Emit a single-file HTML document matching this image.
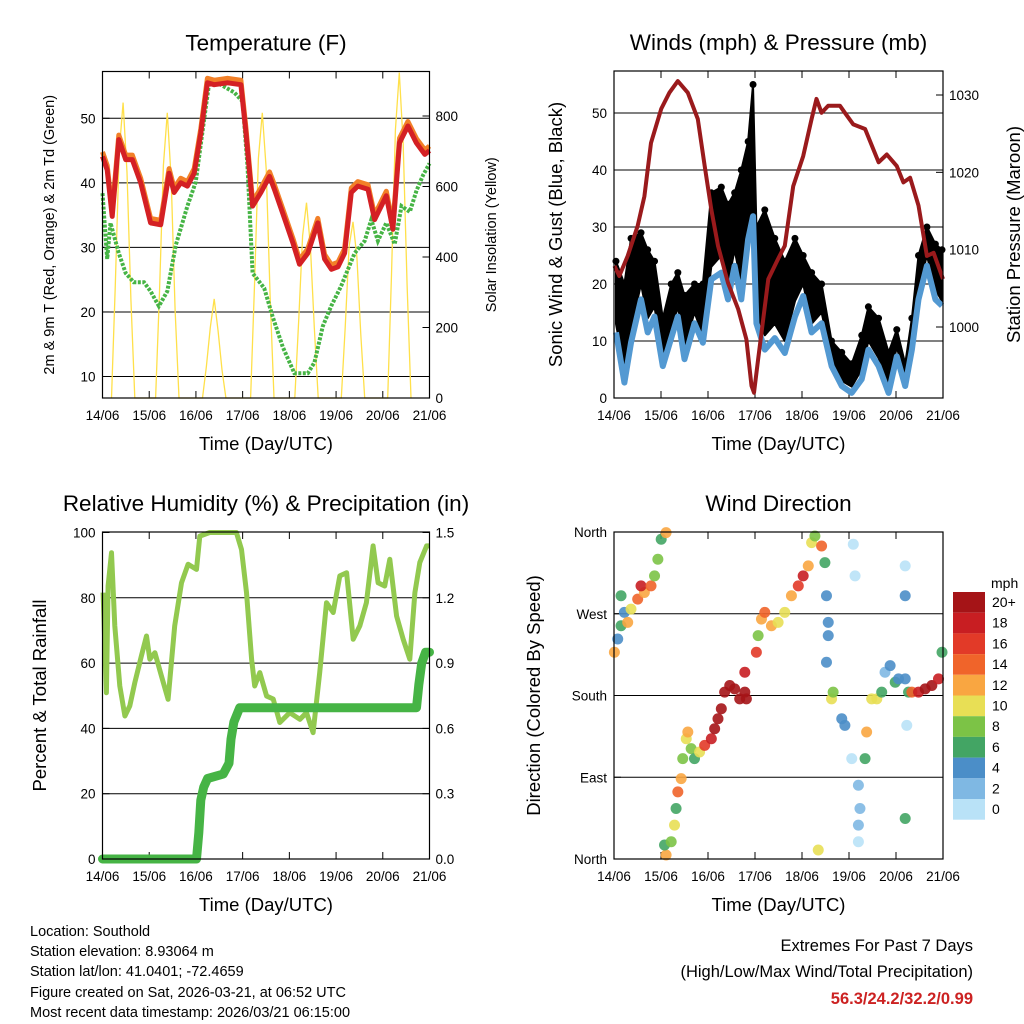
<!DOCTYPE html>
<html><head><meta charset="utf-8"><style>
body{margin:0;background:#fff;}
svg{display:block;font-family:"Liberation Sans",Arial,sans-serif;}
</style></head><body>
<svg id="c" width="1024" height="1024" viewBox="0 0 1024 1024">
<g id="g"></g>
<text x="30" y="936" font-size="14.5">Location: Southold</text>
<text x="30" y="956" font-size="14.5">Station elevation: 8.93064 m</text>
<text x="30" y="976" font-size="14.5">Station lat/lon: 41.0401; -72.4659</text>
<text x="30" y="997" font-size="14.5">Figure created on Sat, 2026-03-21, at 06:52 UTC</text>
<text x="30" y="1017" font-size="14.5">Most recent data timestamp: 2026/03/21 06:15:00</text>
<text x="973" y="951" font-size="16.5" text-anchor="end">Extremes For Past 7 Days</text>
<text x="973" y="977" font-size="16.5" text-anchor="end">(High/Low/Max Wind/Total Precipitation)</text>
<text x="973" y="1004" font-size="16.5" font-weight="bold" fill="#cc2222" text-anchor="end">56.3/24.2/32.2/0.99</text>
</svg>
<script>
// ---------- DATA ----------
const dayLabels=["14/06","15/06","16/06","17/06","18/06","19/06","20/06","21/06"];
const tempT=[0,2.4,5.0,8.4,11.9,15.3,19.6,24.7,29.9,34.2,36.8,40.2,43.6,47.1,50.5,53.9,57.4,64.2,71.1,73.7,77.1,81.4,85.8,88.3,92.6,97.8,101.2,105.5,110.6,114.1,117.6,121.0,124.4,127.8,131.2,136.4,139.8,143.2,145.8,149.2,152.6,156.9,161.2,165.6,168];
const tempV=[44.1,42,34.8,46.7,43.6,43.6,40,33.8,33.5,41.5,38.5,40,39.5,41.5,47.7,55.5,55.2,55.5,55.2,47.7,36.4,38.5,41,39,35.3,30.7,27.4,29.1,33.8,28.2,26.6,27,29.1,38.5,39.5,39,34.3,36.4,38,32.8,46.2,48.8,46.2,44.4,45];
const dewT=[0,0.7,2.4,4.1,8.4,11.9,16.1,21.3,24.7,29.0,33.3,37.6,43.6,47.9,52.2,54.8,60.8,67.7,72.0,74.5,77.1,83.1,87.4,92.6,98.6,105.5,108.9,113.2,117.5,122.6,129.5,134.7,138.1,141.5,145.8,150.1,153.6,157.9,161.3,164.7,168];
const dewV=[38.4,35.3,28.2,33.8,29.1,26,24.6,24.6,23.2,20.9,23.2,30.3,36.4,40.1,49.8,55.5,55.2,54,52.6,42.6,26,23.7,19.3,14.6,10.5,10.5,12.2,17.8,20.9,24,29.1,31,34.3,31,33.8,30.5,36.4,35.5,38.8,41.2,43];
const solarT=[4.6,6.6,8.6,10.6,12.6,14.6,16.6, 27.3,29.3,31.3,33.3,35.3,37.3,39.3, 51.4,53.4,55.4,57.4,59.4,61.4,63.4, 76.1,78.1,80.1,82.1,84.1,86.1,88.1, 98.8,100.8,102.8,104.8,106.8,108.8,110.8, 122.7,124.7,126.7,128.7,130.7,132.7,134.7, 146.5,148.5,150.5,152.5,154.5,156.5,158.5];
const solarV=[0,320,700,838,640,280,0, 0,300,660,809,620,250,0, 0,90,200,281,190,80,0, 0,320,680,809,650,290,0, 0,220,460,554,430,200,0, 0,200,430,500,400,180,0, 0,350,760,923,720,320,0];
const windT=[1.0,5.3,8.7,13.8,17.2,20.7,24.9,29.2,32.6,36.0,41.1,45.4,49.7,54.8,58.2,61.6,65.0,68.5,71.0,72.7,77.0,82.1,87.2,92.4,96.6,100.9,106.0,111.1,116.3,121.4,126.5,129.9,135.1,140.2,144.4,148.7,152.1,155.5,159.8,164.1,167.5];
const windV=[11.5,2.7,9.7,17.3,11.5,14.3,5.6,10.5,14.3,6.8,13.1,9.7,20.8,22,17.3,23.2,17.3,27.8,31.9,13.1,8.5,10.5,7.9,14.3,17.9,11.5,13.1,5.6,2.1,0.9,3.3,8.5,5.6,0.9,7.3,2.1,8.5,17.3,23.2,17.3,16.2];
const gustHi=[24,20,28,29,26,24,14,20,22,18,20,20,36,37,34,36,40,45,55,30,33,28,24,28,25,22,20,10,8,6,11,16,14,8,12,6,14,25,30,27,26];
const gustLo=[13,5,12,20,14,16,7,12,16,9,15,11,23,25,20,26,20,30,33,15,11,13,10,17,20,13,15,7,3,2,5,10,7,2,9,3,10,19,25,19,17];
const presT=[0.2,2.7,7.0,12.1,15.5,18.9,24.1,28.3,32.6,37.7,42.8,46.3,49.7,53.1,58.2,63.4,67.6,70.2,71.5,73.6,78.8,83.8,87.2,91.5,96.6,100.9,103.4,106.0,109.4,115.4,117.9,122.2,128.2,135.1,139.3,144.4,147.8,151.2,155.5,159.8,163.2,168];
const presV=[1007.9,1006.6,1009.2,1013.1,1016.9,1023.8,1028.2,1030.3,1031.8,1030.3,1026.9,1020.8,1015.2,1010.5,1005.7,1002.3,998.4,992.4,991.5,995.8,1006.2,1008.8,1010.5,1018.2,1022.1,1026.9,1029.5,1027.7,1028.6,1028.6,1027.7,1026.2,1025.6,1021.3,1022.3,1020.8,1018.7,1019.3,1015.7,1009.2,1009.6,1006.2];
const rhT=[0.3,2.0,2.9,4.6,6.3,8.9,11.5,14.0,16.6,20.0,22.6,24.3,26.9,30.3,33.7,37.1,40.6,44.0,48.3,50.0,55.1,63.7,68.8,71.4,74.0,76.6,78.2,80.8,84.3,87.7,91.1,96.2,101.4,104.8,108.2,111.6,115.1,118.5,121.9,125.4,128.8,132.2,135.6,139.0,141.6,145.0,147.6,151.1,154.5,157.9,160.5,163.0,166.5,168];
const rhV=[81.6,50.9,83.6,93.8,71.4,53,43.8,46.9,54,62.2,68.3,61.2,63.2,56,48.9,71.4,84.6,90.3,88.7,98.9,100,100,100,94.8,81.6,61.2,53,57.1,49.9,49,41.8,44.8,42.8,44.8,38.7,57.1,78.5,75.5,86.7,87.7,67.3,71.4,78.5,95.9,84.6,83.6,91.8,74.4,67.3,61.2,81.6,90.8,95.9,95.9];
const rainT=[0,48.3,49.5,50.5,52,54,62,65,66,67.5,70.5,161.3,162.5,164,166,168];
const rainV=[0,0,0.12,0.27,0.33,0.37,0.39,0.44,0.55,0.63,0.695,0.695,0.8,0.9,0.95,0.95];
const dirT=[0.2,1.9,3.6,5.3,3.6,7.0,8.7,12.1,15.5,13.8,18.9,20.7,22.4,24.1,26.6,26.6,25.8,29.2,30.9,31.7,32.6,34.3,35.1,36.9,37.7,39.4,41.1,43.7,46.3,49.7,51.4,53.1,54.8,56.5,59.1,61.6,64.2,66.8,67.6,66.8,72.7,73.6,75.3,77.0,80.4,83.8,87.2,90.6,94.1,96.6,99.2,100.9,102.6,106.0,107.7,108.5,109.4,109.4,108.5,111.1,111.9,116.3,117.9,121.4,124.8,125.6,124.8,128.2,129.0,131.6,134.2,136.7,138.4,141.0,143.6,145.3,148.7,150.4,152.1,155.5,158.9,162.3,165.7,167.5,122.2,123.1,148.7,148.7,148.7,104.3,124.8,149.5];
const dirV=[227.6,242.2,256.8,271.5,289.8,260.5,275.1,286.1,293.4,300.7,300.7,311.7,330,352,359.3,4.4,15.4,19,37.3,55.6,73.9,88.5,110.5,132.4,139.8,121.5,110.5,117.8,125.1,132.4,143.4,154.4,165.4,183.7,191,187.3,176.3,183.7,176.3,205.6,227.6,245.9,264.1,271.5,256.8,260.5,271.5,289.8,300.7,311.7,322.7,348.3,355.6,344.6,326.3,289.8,260.5,245.9,216.6,176.3,183.7,154.4,147.1,110.5,81.2,55.6,37.3,110.5,139.8,176.3,176.3,183.7,205.6,212.9,194.6,198.3,198.3,183.7,183.7,183.7,187.3,191,198.3,227.6,346.5,311.7,322.7,289.8,44.6,9.9,19,147.1];
const dirS=[12,4,6,4,6,12,10,14,12,18,14,8,8,6,12,12,6,8,10,6,14,12,8,10,12,8,6,10,16,18,20,20,20,20,20,20,20,20,20,18,16,8,12,14,12,10,10,12,16,18,12,10,8,14,6,4,4,4,4,10,8,4,4,0,2,2,2,6,12,10,10,6,2,4,6,4,4,6,14,18,20,20,18,6,0,0,0,4,6,10,0,0];
const cbLabels=["20+","18","16","14","12","10","8","6","4","2","0"];
const cbColors=["#a51417","#c81e22","#e23a28","#f0642a","#f9a641","#e8df55","#7cc346","#43a564","#4b8ec8","#7fb8e3","#b9e2f7"];

// ---------- DRAW ----------
const NS="http://www.w3.org/2000/svg";const G=document.getElementById('g');
function el(tag,attrs,parent,txt){const e=document.createElementNS(NS,tag);for(const k in attrs)e.setAttribute(k,attrs[k]);if(txt!==undefined)e.textContent=txt;(parent||G).appendChild(e);return e;}
function lin(d0,d1,r0,r1){return v=>r0+(v-d0)*(r1-r0)/(d1-d0);}
function pts(T,V,sx,sy){return T.map((t,i)=>sx(t).toFixed(1)+','+sy(V[i]).toFixed(1)).join(' ');}
function spd2col(s){let i=Math.round(s/2);if(i>10)i=10;return cbColors[10-i];}

function panel(P){
  const g=el('g',{});
  
  
  const sx=lin(0,168,P.x0,P.x1);
  P.lt.forEach((v,i)=>{const y=P.ly(v);
    if(P.grid&&y>P.y0+1&&y<P.y1-1){const l=el('line',{x1:P.x0,x2:P.x1,y1:y,y2:y,stroke:'#000','stroke-width':1},g);}
    el('line',{x1:P.x0,x2:P.x0+7,y1:y,y2:y,stroke:'#000'},g);
    const t=el('text',{x:P.x0-7,y:y+5,'font-size':13.5,'text-anchor':'end'},g,P.ltl[i]);
    
  });
  if(P.rt)P.rt.forEach((v,i)=>{const y=P.ry(v);
    el('line',{x1:P.x1-7,x2:P.x1,y1:y,y2:y,stroke:'#000'},g);
    const t=el('text',{x:P.x1+6,y:y+5,'font-size':13.5},g,P.rtl[i]);
    
  });
  dayLabels.forEach((d,i)=>{const x=sx(i*24);
    el('line',{x1:x,x2:x,y1:P.y1,y2:P.y1-7,stroke:'#000'},g);
    el('line',{x1:x,x2:x,y1:P.y0,y2:P.y0+7,stroke:'#000'},g);
    const t=el('text',{x:x,y:P.y1+22,'font-size':13.5,'text-anchor':'middle'},g,d);
    
  });
  P.draw(g,sx);
  el('rect',{x:P.x0,y:P.y0,width:P.x1-P.x0,height:P.y1-P.y0,fill:'none',stroke:'#000','stroke-width':1.2},g);
  const tt=el('text',{x:(P.x0+P.x1)/2,y:P.y0-21,'font-size':22.5,'text-anchor':'middle'},g,P.title);
  
  const xt=el('text',{x:(P.x0+P.x1)/2,y:P.y1+52,'font-size':18.5,'text-anchor':'middle'},g,'Time (Day/UTC)');
  
  const cy=(P.y0+P.y1)/2;
  const yl=el('text',{x:0,y:0,'font-size':P.lfs,'text-anchor':'middle',transform:`translate(${P.lx},${cy}) rotate(-90)`},g,P.ltitle);
  
  if(P.rtitle){const yr=el('text',{x:0,y:0,'font-size':P.rfs,'text-anchor':'middle',transform:`translate(${P.rx},${cy}) rotate(-90)`},g,P.rtitle);
    }
}

// Panel 1 temperature
const t1y=lin(10,50,376.5,118.3), s1y=lin(0,800,398,116);
panel({name:'temperature-panel',x0:102.5,x1:429.5,y0:71.5,y1:398,grid:true,title:'Temperature (F)',
 lt:[10,20,30,40,50],ltl:['10','20','30','40','50'],ly:t1y,
 rt:[0,200,400,600,800],rtl:['0','200','400','600','800'],ry:s1y,
 ltitle:'2m & 9m T (Red, Orange) & 2m Td (Green)',lx:54,lfs:14.5,rtitle:'Solar Insolation (Yellow)',rx:496,rfs:14.5,
 draw:(g,sx)=>{
  const s=el('polyline',{points:pts(solarT,solarV,sx,s1y),fill:'none',stroke:'#ffe04a','stroke-width':1.3},g);
  
  const d=el('polyline',{points:pts(dewT,dewV,sx,t1y),fill:'none',stroke:'#46b445','stroke-width':4,'stroke-dasharray':'3 1.5'},g);
  
  const o=el('polyline',{points:pts(tempT,tempV.map(v=>v+0.7),sx,t1y),fill:'none',stroke:'#f28028','stroke-width':5,'stroke-linejoin':'round'},g);
  
  const r=el('polyline',{points:pts(tempT,tempV,sx,t1y),fill:'none',stroke:'#d42024','stroke-width':5,'stroke-linejoin':'round'},g);
  
 }});

// Panel 2 winds
const w2y=lin(0,50,398,113), p2y=lin(1000,1030,327,95);
panel({name:'winds-panel',x0:614,x1:943,y0:71,y1:398,grid:true,title:'Winds (mph) & Pressure (mb)',
 lt:[0,10,20,30,40,50],ltl:['0','10','20','30','40','50'],ly:w2y,
 rt:[1000,1010,1020,1030],rtl:['1000','1010','1020','1030'],ry:p2y,
 ltitle:'Sonic Wind & Gust (Blue, Black)',lx:562,lfs:18.5,rtitle:'Station Pressure (Maroon)',rx:1020,rfs:18.5,
 draw:(g,sx)=>{
  const top=windT.map((t,i)=>sx(t).toFixed(1)+','+w2y(gustHi[i]).toFixed(1));
  const bot=windT.map((t,i)=>sx(t).toFixed(1)+','+w2y(gustLo[i]).toFixed(1)).reverse();
  const b=el('polygon',{points:top.concat(bot).join(' '),fill:'#000',stroke:'#000','stroke-width':2,'stroke-linejoin':'round'},g);
  
  windT.forEach((t,i)=>{const c=el('circle',{cx:sx(t),cy:w2y(gustHi[i]),r:3.5,fill:'#000'},g);
    });
  const w=el('polyline',{points:pts(windT,windV,sx,w2y),fill:'none',stroke:'#5399d2','stroke-width':6,'stroke-linejoin':'round'},g);
  
  const p=el('polyline',{points:pts(presT,presV,sx,p2y),fill:'none',stroke:'#9a1a1c','stroke-width':4,'stroke-linejoin':'round'},g);
  
 }});

// Panel 3 RH & precip
const h3y=lin(0,100,859,532.5), r3y=lin(0,1.5,859,532.5);
panel({name:'humidity-panel',x0:102.5,x1:429.5,y0:532,y1:859,grid:true,title:'Relative Humidity (%) & Precipitation (in)',
 lt:[0,20,40,60,80,100],ltl:['0','20','40','60','80','100'],ly:h3y,
 rt:[0,0.3,0.6,0.9,1.2,1.5],rtl:['0.0','0.3','0.6','0.9','1.2','1.5'],ry:r3y,
 ltitle:'Percent & Total Rainfall',lx:46,lfs:18.5,
 draw:(g,sx)=>{
  const h=el('polyline',{points:pts(rhT,rhV,sx,h3y),fill:'none',stroke:'#92c94f','stroke-width':5,'stroke-linejoin':'round'},g);
  
  const r=el('polyline',{points:pts(rainT,rainV,sx,r3y),fill:'none',stroke:'#46b445','stroke-width':9,'stroke-linejoin':'round','stroke-linecap':'round'},g);
  
 }});

// Panel 4 wind direction
const d4y=lin(0,360,859,532);
panel({name:'wind-direction-panel',x0:614,x1:943,y0:532,y1:859,grid:true,title:'Wind Direction',
 lt:[0,90,180,270,360],ltl:['North','East','South','West','North'],ly:d4y,
 ltitle:'Direction (Colored By Speed)',lx:540,lfs:18.5,
 draw:(g,sx)=>{
  dirT.forEach((t,i)=>{const c=el('circle',{cx:sx(t),cy:d4y(dirV[i]),r:5.5,fill:spd2col(dirS[i]),'fill-opacity':0.9},g);
    });
 }});

// colorbar
const cb=el('g',{});


const mt=el('text',{x:991,y:588,'font-size':14,'text-anchor':'start'},cb,'mph');

cbLabels.forEach((l,i)=>{const y=592+i*20.7;
  const r=el('rect',{x:953,y:y,width:32,height:20.7,fill:cbColors[i]},cb);
  
  const t=el('text',{x:992,y:y+15,'font-size':14},cb,l);
  
});
</script>
</body></html>
